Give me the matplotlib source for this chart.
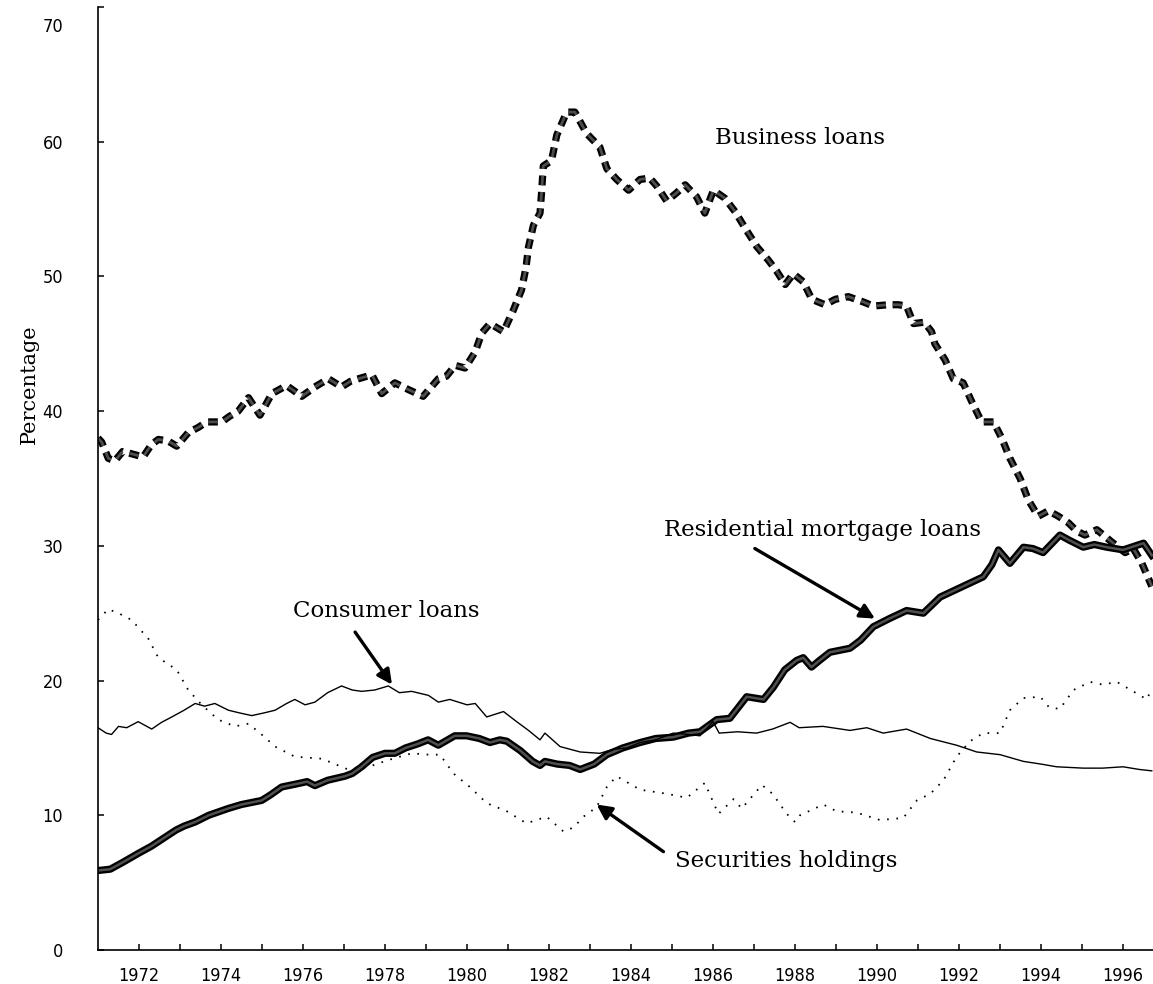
import matplotlib
matplotlib.use("Agg")
import matplotlib.pyplot as plt
from matplotlib.ticker import FixedLocator
from matplotlib.transforms import ScaledTranslation

plt.rcParams["lines.scale_dashes"] = False

# business loans share (percent)
business_years = [
    1971.0, 1971.09, 1971.25, 1971.41, 1971.6, 1971.74, 1972.1, 1972.3, 1972.47, 1972.7,
    1972.92, 1973.2, 1973.45, 1973.65, 1974.02, 1974.2, 1974.42, 1974.67, 1974.95, 1975.24,
    1975.6, 1975.97, 1976.29, 1976.62, 1976.94, 1977.15, 1977.35, 1977.68, 1977.92, 1978.24,
    1978.57, 1978.93, 1979.3, 1979.5, 1979.71, 1979.95, 1980.2, 1980.36, 1980.56, 1980.89,
    1981.13, 1981.33, 1981.44, 1981.5, 1981.62, 1981.78, 1981.82, 1981.86, 1982.06, 1982.19,
    1982.43, 1982.63, 1982.92, 1983.24, 1983.41, 1983.65, 1983.94, 1984.22, 1984.46, 1984.63,
    1984.87, 1985.11, 1985.32, 1985.6, 1985.8, 1986.01, 1986.29, 1986.54, 1986.78, 1987.07,
    1987.35, 1987.55, 1987.76, 1987.96, 1988.2, 1988.41, 1988.73, 1988.98, 1989.3, 1989.67,
    1989.91, 1990.28, 1990.52, 1990.72, 1990.89, 1991.15, 1991.33, 1991.41, 1991.66, 1991.86,
    1992.1, 1992.31, 1992.55, 1992.84, 1993.04, 1993.24, 1993.49, 1993.69, 1993.93, 1994.18,
    1994.42, 1994.67, 1994.87, 1995.07, 1995.36, 1995.68, 1996.05, 1996.25, 1996.46, 1996.7,
]
business_vals = [
    38.0, 37.7, 36.5, 36.3, 37.0, 36.9, 36.6, 37.5, 37.9, 37.8,
    37.4, 38.4, 38.8, 39.2, 39.2, 39.6, 40.0, 41.0, 39.7, 41.3,
    41.9, 41.1, 41.8, 42.4, 41.8, 42.2, 42.4, 42.7, 41.3, 42.1,
    41.6, 41.1, 42.4, 42.6, 43.4, 43.2, 44.4, 45.8, 46.5, 45.9,
    47.5, 49.0, 50.7, 52.2, 53.8, 54.7, 56.3, 58.2, 58.6, 60.5,
    62.2, 62.2, 60.6, 59.6, 58.0, 57.2, 56.4, 57.2, 57.3, 56.7,
    55.6, 56.2, 56.8, 55.9, 54.7, 56.4, 55.8, 54.8, 53.6, 52.2,
    51.2, 50.4, 49.4, 50.2, 49.6, 48.3, 47.9, 48.3, 48.5, 48.1,
    47.8, 47.9, 47.9, 47.8, 46.5, 46.6, 45.9, 45.0, 43.8, 42.4,
    42.1, 40.7, 39.2, 39.2, 38.0, 36.5, 35.0, 33.4, 32.2, 32.6,
    32.2, 31.7, 31.1, 30.8, 31.2, 30.4, 29.5, 29.8, 28.7, 27.0,
]

mortgage_years = [
    1971.0, 1971.3, 1971.6, 1972.0, 1972.3, 1972.55, 1972.9, 1973.1, 1973.37, 1973.7,
    1974.17, 1974.5, 1974.99, 1975.2, 1975.48, 1975.8, 1976.1, 1976.29, 1976.6, 1977.02,
    1977.2, 1977.43, 1977.7, 1978.0, 1978.24, 1978.5, 1978.8, 1979.05, 1979.3, 1979.7,
    1979.99, 1980.3, 1980.56, 1980.8, 1980.97, 1981.3, 1981.6, 1981.78, 1981.9, 1982.2,
    1982.5, 1982.76, 1983.1, 1983.41, 1983.8, 1984.22, 1984.6, 1985.03, 1985.4, 1985.68,
    1986.09, 1986.41, 1986.82, 1987.23, 1987.47, 1987.75, 1988.04, 1988.2, 1988.4, 1988.6,
    1988.85, 1989.34, 1989.6, 1989.91, 1990.3, 1990.72, 1991.13, 1991.54, 1992.1, 1992.59,
    1992.8, 1992.96, 1993.24, 1993.57, 1993.8, 1994.05, 1994.46, 1994.7, 1995.03, 1995.3,
    1995.6, 1996.0, 1996.3, 1996.5, 1996.7,
]
mortgage_vals = [
    5.9, 6.0, 6.5, 7.2, 7.7, 8.2, 8.9, 9.2, 9.5, 10.0,
    10.5, 10.8, 11.1, 11.5, 12.1, 12.3, 12.5, 12.2, 12.6, 12.9,
    13.1, 13.6, 14.3, 14.6, 14.6, 15.0, 15.3, 15.6, 15.2, 15.9,
    15.9, 15.7, 15.4, 15.6, 15.5, 14.8, 14.0, 13.7, 14.0, 13.8,
    13.7, 13.4, 13.8, 14.5, 15.0, 15.4, 15.7, 15.8, 16.1, 16.2,
    17.1, 17.2, 18.8, 18.6, 19.5, 20.8, 21.5, 21.7, 21.0, 21.5,
    22.1, 22.4, 23.0, 24.0, 24.6, 25.2, 25.0, 26.2, 27.0, 27.7,
    28.6, 29.7, 28.7, 29.9, 29.8, 29.5, 30.8, 30.4, 29.9, 30.1,
    29.9, 29.7, 30.0, 30.2, 29.3,
]

consumer_years = [
    1971.0, 1971.2, 1971.33, 1971.5, 1971.7, 1971.98, 1972.31, 1972.55, 1972.8, 1973.1,
    1973.37, 1973.6, 1973.85, 1974.18, 1974.45, 1974.75, 1975.05, 1975.32, 1975.6, 1975.8,
    1976.05, 1976.29, 1976.6, 1976.94, 1977.2, 1977.43, 1977.75, 1978.08, 1978.35, 1978.65,
    1979.06, 1979.3, 1979.58, 1980.0, 1980.2, 1980.48, 1980.89, 1981.21, 1981.5, 1981.78,
    1981.9, 1982.27, 1982.76, 1983.24, 1983.57, 1983.9, 1984.22, 1984.6, 1985.03, 1985.4,
    1985.68, 1986.0, 1986.15, 1986.6, 1987.06, 1987.45, 1987.88, 1988.1, 1988.68, 1989.34,
    1989.75, 1990.15, 1990.72, 1991.3, 1991.94, 1992.43, 1993.0, 1993.57, 1994.0, 1994.38,
    1995.03, 1995.5, 1996.0, 1996.4, 1996.7,
]
consumer_vals = [
    16.5, 16.1, 16.0, 16.6, 16.5, 16.95, 16.4, 16.9, 17.3, 17.8,
    18.3, 18.1, 18.3, 17.8, 17.6, 17.4, 17.6, 17.8, 18.3, 18.6,
    18.2, 18.4, 19.1, 19.6, 19.3, 19.2, 19.3, 19.6, 19.1, 19.2,
    18.9, 18.4, 18.6, 18.2, 18.3, 17.3, 17.7, 16.95, 16.3, 15.6,
    16.1, 15.1, 14.7, 14.6, 14.9, 15.0, 15.4, 15.6, 16.1, 16.0,
    15.9, 16.95, 16.1, 16.2, 16.1, 16.4, 16.9, 16.5, 16.6, 16.3,
    16.5, 16.1, 16.4, 15.7, 15.2, 14.7, 14.5, 14.0, 13.8, 13.6,
    13.5, 13.5, 13.6, 13.4, 13.3,
]

securities_years = [
    1971.0, 1971.25, 1971.5, 1971.82, 1972.23, 1972.47, 1972.92, 1973.2, 1973.53, 1973.93,
    1974.34, 1974.67, 1974.99, 1975.32, 1975.8, 1976.46, 1977.1, 1977.6, 1978.08, 1978.65,
    1979.06, 1979.34, 1979.67, 1980.07, 1980.48, 1980.97, 1981.45, 1981.94, 1982.35, 1982.6,
    1982.84, 1983.16, 1983.41, 1983.65, 1984.22, 1984.87, 1985.36, 1985.8, 1986.13, 1986.5,
    1986.7, 1987.19, 1987.45, 1987.8, 1988.0, 1988.12, 1988.69, 1989.01, 1989.5, 1990.07,
    1990.64, 1990.97, 1991.3, 1991.62, 1991.94, 1992.27, 1992.59, 1993.0, 1993.24, 1993.57,
    1993.98, 1994.2, 1994.46, 1994.79, 1995.2, 1995.5, 1995.85, 1996.33, 1996.58, 1996.7,
]
securities_vals = [
    24.5, 25.3, 25.0, 24.5, 23.1, 21.7, 20.8, 19.3, 18.2, 17.1,
    16.6, 16.8, 16.0, 15.1, 14.35, 14.2, 13.4, 13.6, 14.1, 14.6,
    14.5, 14.5, 13.1, 12.1, 10.9, 10.3, 9.4, 9.9, 8.8, 9.1,
    9.9, 10.6, 12.1, 12.9, 11.9, 11.6, 11.3, 12.4, 10.1, 11.2,
    10.5, 12.25, 11.6, 10.1, 9.5, 10.0, 10.8, 10.3, 10.2, 9.65,
    9.8, 11.1, 11.6, 12.6, 14.35, 15.5, 16.1, 16.1, 17.8, 18.7,
    18.8, 18.0, 17.9, 19.3, 19.9, 19.7, 19.9, 19.05, 18.6, 19.4,
]

y_ticks = [0, 10, 20, 30, 40, 50, 60, 70]
x_label_years = list(range(1972, 1997, 2))
x_minor_years = list(range(1973, 1997, 2))

TICK_FONT = ["Liberation Sans Narrow", "DejaVu Sans"]
TEXT_FONT = ["DejaVu Serif"]

fig = plt.figure(figsize=(11.53, 9.84), dpi=100)
ax = fig.add_axes([98 / 1153, 34 / 984, 1055 / 1153, 943 / 984])

# thick dashed line: black edge with a grey core
bus_dash = (7.0, 4.8)
ax.plot(business_years, business_vals, color="black", lw=5.2,
        dashes=bus_dash, dash_capstyle="butt")
ax.plot(business_years, business_vals, color="#4d4d4d", lw=2.0,
        dashes=bus_dash, dash_capstyle="butt")

ax.plot(mortgage_years, mortgage_vals, color="black", lw=5.2, solid_joinstyle="round")
ax.plot(mortgage_years, mortgage_vals, color="#505050", lw=1.8, solid_joinstyle="round")

ax.plot(consumer_years, consumer_vals, color="black", lw=1.0)
ax.plot(securities_years, securities_vals, color="black", lw=1.3,
        dashes=(1.2, 5.5))

ax.set_xlim(1971, 1996.73)
ax.set_ylim(0, 70)

ax.xaxis.set_major_locator(FixedLocator(x_label_years))
ax.xaxis.set_minor_locator(FixedLocator(x_minor_years))
ax.set_xticklabels([str(y) for y in x_label_years])
ax.set_yticks(y_ticks)
ax.set_yticklabels([str(v) for v in y_ticks])

ax.tick_params(axis="both", which="both", direction="in", length=4, width=1.1,
               colors="black")
ax.tick_params(axis="x", which="major", pad=12, labelsize=13)
ax.tick_params(axis="y", pad=25, labelsize=13)
for lab in ax.get_xticklabels() + ax.get_yticklabels():
    lab.set_family(TICK_FONT)
    lab.set_stretch("condensed")
top_lab = ax.get_yticklabels()[-1]
top_lab.set_transform(top_lab.get_transform()
                      + ScaledTranslation(0, -18 / 100, fig.dpi_scale_trans))

for side in ("top", "right"):
    ax.spines[side].set_visible(False)
for side in ("left", "bottom"):
    ax.spines[side].set_linewidth(1.2)

ax.set_ylabel("Percentage", family=TEXT_FONT, fontsize=15)
ax.yaxis.set_label_coords(-0.056, 0.60)

ax.text(1988.12, 60.3, "Business loans", family=TEXT_FONT, fontsize=16.5,
        ha="center", va="center")
ax.text(1988.68, 31.2, "Residential mortgage loans", family=TEXT_FONT, fontsize=16.5,
        ha="center", va="center")
ax.text(1978.02, 25.2, "Consumer loans", family=TEXT_FONT, fontsize=16.5,
        ha="center", va="center")
ax.text(1987.78, 6.6, "Securities holdings", family=TEXT_FONT, fontsize=16.5,
        ha="center", va="center")

arrow = dict(arrowstyle="-|>", color="black", lw=2.4, mutation_scale=22,
             shrinkA=0, shrinkB=0)
ax.annotate("", xy=(1989.95, 24.6), xytext=(1987.02, 29.8), arrowprops=arrow)
ax.annotate("", xy=(1978.17, 19.7), xytext=(1977.27, 23.6), arrowprops=arrow)
ax.annotate("", xy=(1983.16, 10.8), xytext=(1984.79, 7.3), arrowprops=arrow)

fig.savefig("out.png", dpi=100)
